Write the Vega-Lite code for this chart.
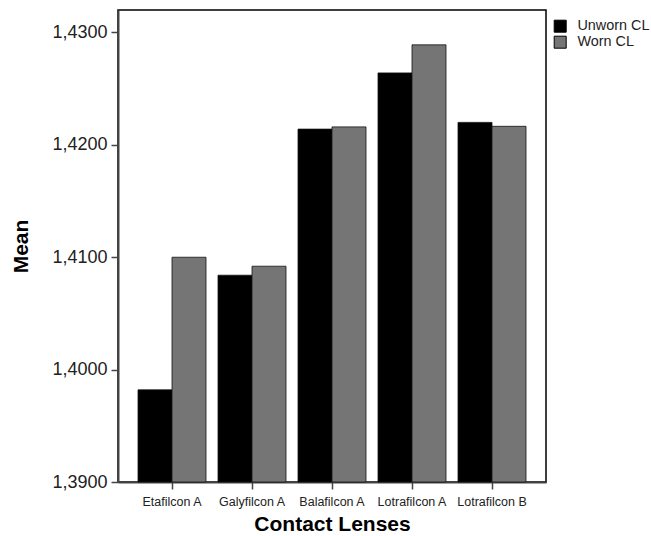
{
  "$schema": "https://vega.github.io/schema/vega-lite/v6.json",
  "width": 428,
  "height": 472,
  "padding": {"left": 10, "top": 10, "right": 0, "bottom": 0},
  "background": "white",
  "config": {
    "font": "Liberation Sans",
    "view": {"stroke": "black", "strokeWidth": 1.5}
  },
  "data": {
    "values": [
      {"lens": "Etafilcon A", "cond": "Unworn CL", "mean": 1.3982},
      {"lens": "Etafilcon A", "cond": "Worn CL", "mean": 1.4100},
      {"lens": "Galyfilcon A", "cond": "Unworn CL", "mean": 1.4084},
      {"lens": "Galyfilcon A", "cond": "Worn CL", "mean": 1.4092},
      {"lens": "Balafilcon A", "cond": "Unworn CL", "mean": 1.4214},
      {"lens": "Balafilcon A", "cond": "Worn CL", "mean": 1.4216},
      {"lens": "Lotrafilcon A", "cond": "Unworn CL", "mean": 1.4264},
      {"lens": "Lotrafilcon A", "cond": "Worn CL", "mean": 1.4289},
      {"lens": "Lotrafilcon B", "cond": "Unworn CL", "mean": 1.4220},
      {"lens": "Lotrafilcon B", "cond": "Worn CL", "mean": 1.42165}
    ]
  },
  "mark": {"type": "bar", "stroke": "#111", "strokeWidth": 0.8},
  "encoding": {
    "x": {
      "field": "lens",
      "type": "nominal",
      "sort": null,
      "scale": {"paddingInner": 0.15, "paddingOuter": 0.25},
      "axis": {
        "title": "Contact Lenses",
        "titleFontSize": 21,
        "titleFontWeight": "bold",
        "titleColor": "black",
        "titlePadding": 6,
        "labelFontSize": 12.5,
        "labelColor": "#222",
        "labelAngle": 0,
        "labelPadding": 6,
        "tickSize": 7,
        "tickColor": "#444",
        "tickWidth": 1.5,
        "domainColor": "#444",
        "domainWidth": 2
      }
    },
    "xOffset": {"field": "cond", "type": "nominal", "scale": {"paddingInner": 0, "paddingOuter": 0}},
    "y": {
      "field": "mean",
      "type": "quantitative",
      "scale": {"domain": [1.39, 1.432], "nice": false, "zero": false},
      "axis": {
        "title": "Mean",
        "titleFontSize": 21,
        "titleFontWeight": "bold",
        "titleColor": "black",
        "titlePadding": 20,
        "values": [1.39, 1.40, 1.41, 1.42, 1.43],
        "labelExpr": "replace(format(datum.value, '.4f'), '.', ',')",
        "labelFontSize": 18,
        "labelColor": "#222",
        "labelPadding": 4,
        "tickSize": 7,
        "tickColor": "#444",
        "tickWidth": 1.5,
        "domainColor": "#444",
        "domainWidth": 2,
        "grid": false
      }
    },
    "y2": {"datum": 1.39},
    "color": {
      "field": "cond",
      "type": "nominal",
      "scale": {"domain": ["Unworn CL", "Worn CL"], "range": ["black", "#757575"]},
      "legend": {
        "title": null,
        "orient": "none",
        "legendX": 435,
        "legendY": 9,
        "symbolType": "square",
        "symbolSize": 144,
        "symbolStrokeColor": "black",
        "symbolStrokeWidth": 1,
        "labelFontSize": 14.4,
        "labelColor": "#222",
        "rowPadding": -8,
        "labelOffset": 10
      }
    }
  }
}
